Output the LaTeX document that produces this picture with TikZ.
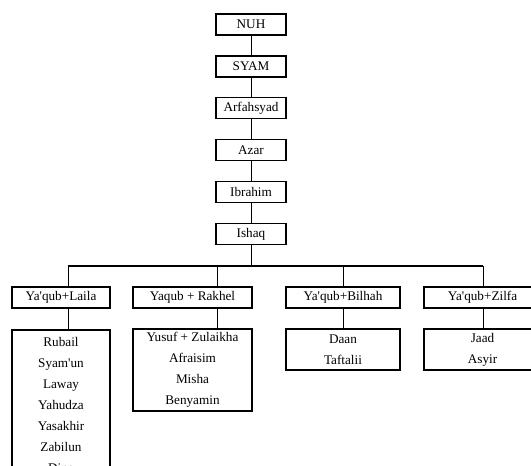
\documentclass[tikz,border=0pt]{standalone}
\usepackage{fontspec}
\setmainfont{Liberation Serif}[Ligatures=TeXOff]
\usepackage{tikz}
\usetikzlibrary{positioning,calc}

\begin{document}
\begin{tikzpicture}[
    x=0.75pt, y=-0.75pt,
    box/.style={rectangle, draw, line width=1.3pt, minimum height=15.75pt, inner sep=0pt,
                align=center, font=\fontsize{9.9}{15.75}\selectfont},
    topbox/.style={box, minimum width=52.5pt},
    link/.style={line width=0.75pt},
    bar/.style={line width=1.3pt}
]
    \clip (0,0) rectangle (531,466);
    \useasboundingbox (0,0) rectangle (531,466);

    % Line of descent
    \node[topbox] (nuh) at (251,24.5) {NUH};
    \node[topbox] (syam) at (251,66.5) {SYAM};
    \node[topbox] (arfahsyad) at (251,108) {Arfahsyad};
    \node[topbox] (azar) at (251,150) {Azar};
    \node[topbox] (ibrahim) at (251,192) {Ibrahim};
    \node[topbox] (ishaq) at (251,234) {Ishaq};

    \draw[link] (nuh) -- (syam);
    \draw[link] (syam) -- (arfahsyad);
    \draw[link] (arfahsyad) -- (azar);
    \draw[link] (azar) -- (ibrahim);
    \draw[link] (ibrahim) -- (ishaq);

    % Branch bar
    \coordinate (b1) at (68,266);
    \coordinate (b2) at (217,266);
    \coordinate (b3) at (343,266);
    \coordinate (b4) at (483,266);
    \draw[bar] (b1) -- (b4);
    \draw[link] (ishaq.south) -- (ishaq.south |- b1);

    % Wives of Ya'qub
    \node[box, minimum width=73.5pt] (laila) at (61,297.5) {Ya'qub+Laila};
    \node[box, minimum width=89.25pt] (rakhel) at (192.5,297.5) {Yaqub + Rakhel};
    \node[box, minimum width=85.5pt] (bilhah) at (343,297.5) {Ya'qub+Bilhah};
    \node[box, minimum width=87.75pt] (zilfa) at (482.5,297.5) {Ya'qub+Zilfa};

    \draw[link] (b1) -- (b1 |- laila.north);
    \draw[link] (b2) -- (b2 |- rakhel.north);
    \draw[link] (b3) -- (b3 |- bilhah.north);
    \draw[link] (b4) -- (b4 |- zilfa.north);

    % Children
    \node[box, minimum width=73.5pt, minimum height=112.5pt] (lailakids) at (61,405)
        {Rubail\\Syam'un\\Laway\\Yahudza\\Yasakhir\\Zabilun\\Dina};
    \node[box, minimum width=89.25pt, minimum height=61.5pt] (rakhelkids) at (192.5,370)
        {Yusuf + Zulaikha\\Afraisim\\Misha\\Benyamin};
    \node[box, minimum width=85.5pt, minimum height=30.75pt] (bilhahkids) at (343,349.5)
        {Daan\\Taftalii};
    \node[box, minimum width=87.75pt, minimum height=30.75pt] (zilfakids) at (482.5,349.5)
        {Jaad\\Asyir};

    \draw[link] (b1 |- laila.south) -- (b1 |- lailakids.north);
    \draw[link] (b2 |- rakhel.south) -- (b2 |- rakhelkids.north);
    \draw[link] (b3 |- bilhah.south) -- (b3 |- bilhahkids.north);
    \draw[link] (b4 |- zilfa.south) -- (b4 |- zilfakids.north);
\end{tikzpicture}
\end{document}
